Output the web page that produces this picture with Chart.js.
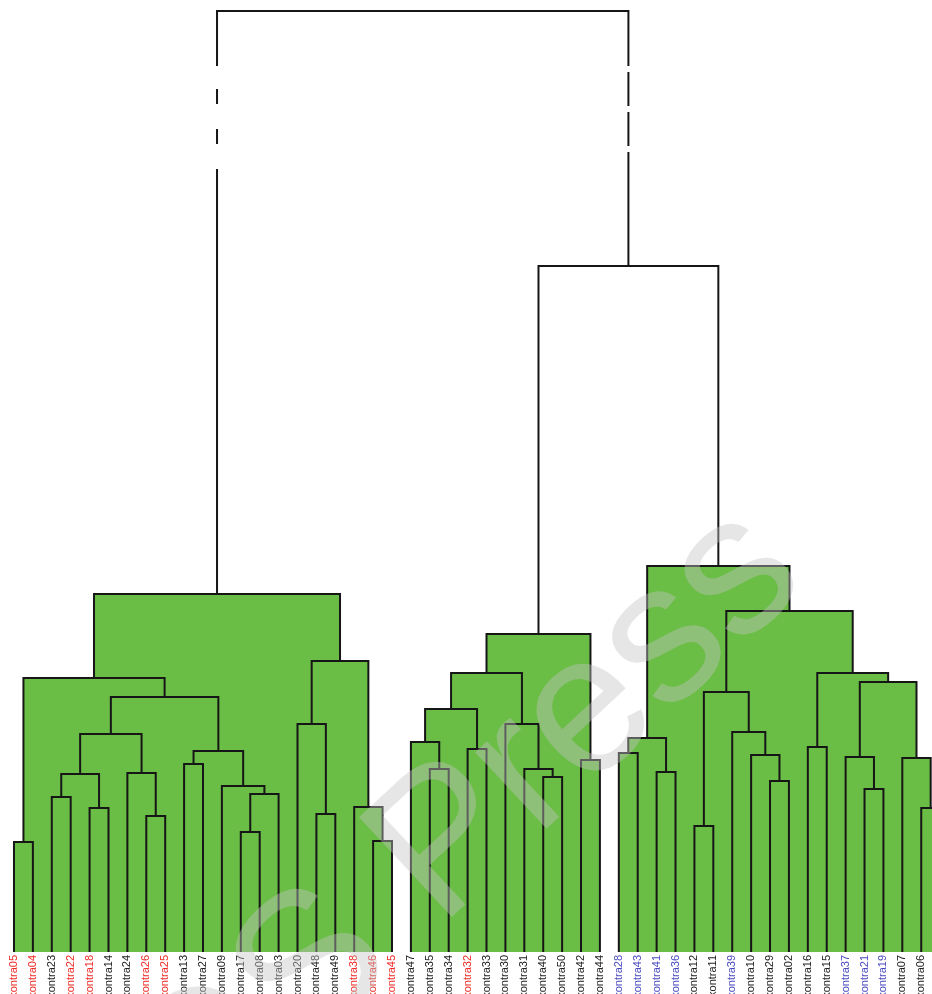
<!DOCTYPE html>
<html>
<head>
<meta charset="utf-8">
<script src="https://cdn.jsdelivr.net/npm/chart.js@4.4.1/dist/chart.umd.min.js"></script>
<style>
  body { margin: 0; background: #fff; }
  #wrap { width: 932px; height: 994px; }
</style>
</head>
<body>
<div id="wrap"><canvas id="chart"></canvas></div>
<script>
// leaf order along the bottom (kontra01 sits just past the right edge of the picture)
const leafNames = [
  'kontra05', 'kontra04', 'kontra23', 'kontra22', 'kontra18', 'kontra14', 'kontra24',
  'kontra26', 'kontra25', 'kontra13', 'kontra27', 'kontra09', 'kontra17', 'kontra08',
  'kontra03', 'kontra20', 'kontra48', 'kontra49', 'kontra38', 'kontra46', 'kontra45',
  'kontra47', 'kontra35', 'kontra34', 'kontra32', 'kontra33', 'kontra30', 'kontra31',
  'kontra40', 'kontra50', 'kontra42', 'kontra44',
  'kontra28', 'kontra43', 'kontra41', 'kontra36', 'kontra12', 'kontra11', 'kontra39',
  'kontra10', 'kontra29', 'kontra02', 'kontra16', 'kontra15', 'kontra37', 'kontra21',
  'kontra19', 'kontra07', 'kontra06', 'kontra01'
];
// label group of each leaf: r = red, b = blue, k = plain
const leafGroup = [
  'r', 'r', 'k', 'r', 'r', 'k', 'k', 'r', 'r', 'k', 'k', 'k', 'k', 'k', 'k', 'k', 'k', 'k', 'r', 'r', 'r',
  'k', 'k', 'k', 'r', 'k', 'k', 'k', 'k', 'k', 'k', 'k',
  'b', 'b', 'b', 'b', 'k', 'k', 'b', 'k', 'k', 'k', 'k', 'k', 'b', 'b', 'b', 'k', 'k', 'k'
];

// merges: [left child, right child, height]
// a child is either a leaf name or the index of an earlier merge
const merges = [
  ['kontra05', 'kontra04', 11.0],   // 0
  ['kontra23', 'kontra22', 15.5],   // 1
  ['kontra18', 'kontra14', 14.4],   // 2
  [1, 2, 17.8],                     // 3
  ['kontra26', 'kontra25', 13.6],   // 4
  ['kontra24', 4, 17.9],            // 5
  [3, 5, 21.8],                     // 6
  ['kontra13', 'kontra27', 18.8],   // 7
  ['kontra17', 'kontra08', 12.0],   // 8
  [8, 'kontra03', 15.8],            // 9
  ['kontra09', 9, 16.6],            // 10
  [7, 10, 20.1],                    // 11
  [6, 11, 25.5],                    // 12
  [0, 12, 27.4],                    // 13
  ['kontra48', 'kontra49', 13.8],   // 14
  ['kontra20', 14, 22.8],           // 15
  ['kontra46', 'kontra45', 11.1],   // 16
  ['kontra38', 16, 14.5],           // 17
  [15, 17, 29.1],                   // 18
  [13, 18, 35.8],                   // 19
  ['kontra35', 'kontra34', 18.3],   // 20
  ['kontra47', 20, 21.0],           // 21
  ['kontra32', 'kontra33', 20.3],   // 22
  [21, 22, 24.3],                   // 23
  ['kontra40', 'kontra50', 17.5],   // 24
  ['kontra31', 24, 18.3],           // 25
  ['kontra30', 25, 22.8],           // 26
  [23, 26, 27.9],                   // 27
  ['kontra42', 'kontra44', 19.2],   // 28
  [27, 28, 31.8],                   // 29
  ['kontra28', 'kontra43', 19.9],   // 30
  ['kontra41', 'kontra36', 18.0],   // 31
  [30, 31, 21.4],                   // 32
  ['kontra12', 'kontra11', 12.6],   // 33
  ['kontra29', 'kontra02', 17.1],   // 34
  ['kontra10', 34, 19.7],           // 35
  ['kontra39', 35, 22.0],           // 36
  [33, 36, 26.0],                   // 37
  ['kontra16', 'kontra15', 20.5],   // 38
  ['kontra21', 'kontra19', 16.3],   // 39
  ['kontra37', 39, 19.5],           // 40
  ['kontra06', 'kontra01', 14.4],   // 41
  ['kontra07', 41, 19.4],           // 42
  [40, 42, 27.0],                   // 43
  [38, 43, 27.9],                   // 44
  [37, 44, 34.1],                   // 45
  [32, 45, 38.6],                   // 46
  [29, 46, 68.6],                   // 47
  [19, 47, 94.1]                    // 48
];

const cutHeight = 50;     // merges below this belong to one of the green clusters
const breakFrom = 78.3;   // stretch of the root stems drawn broken
const breakTo = 88.6;

const groupColors = { r: '#ee2b25', b: '#4a4ac0', k: '#222222' };
const lineColor = '#161616';
const clusterFill = '#6abd45';

const nodeX = [];
const nodeH = [];

function childPos(c) {
  if (typeof c === 'string') return { x: leafNames.indexOf(c), h: 0 };
  return { x: nodeX[c], h: nodeH[c] };
}

// heights on one stem, from the child up to the merge, with the break points if it crosses them
function stem(x, from, to) {
  const pts = [{ x: x, y: from }];
  if (from < breakFrom && to > breakTo) {
    pts.push({ x: x, y: breakFrom }, { x: x, y: breakTo });
  }
  pts.push({ x: x, y: to });
  return pts;
}

function inBreak(ctx) {
  const a = ctx.p0.parsed.y, b = ctx.p1.parsed.y;
  return Math.min(a, b) >= breakFrom - 1e-6 && Math.max(a, b) <= breakTo + 1e-6 && a !== b;
}

const datasets = merges.map(([a, b, h], i) => {
  const l = childPos(a);
  const r = childPos(b);
  nodeX[i] = (l.x + r.x) / 2;
  nodeH[i] = h;
  const pts = stem(l.x, l.h, h).concat(stem(r.x, r.h, h).reverse());
  return {
    data: pts,
    borderColor: lineColor,
    borderWidth: 2,
    borderJoinStyle: 'miter',
    pointRadius: 0,
    pointHoverRadius: 0,
    tension: 0,
    fill: h < cutHeight ? 'origin' : false,
    backgroundColor: clusterFill,
    segment: {
      borderDash: ctx => inBreak(ctx) ? [15, 25] : undefined,
      borderDashOffset: ctx => inBreak(ctx) ? 15 : undefined
    }
  };
});

// faint publisher watermark across the picture
const watermark = {
  id: 'watermark',
  afterDraw(chart) {
    const ctx = chart.ctx;
    ctx.save();
    ctx.translate(440, 928);
    ctx.rotate(-43 * Math.PI / 180);
    ctx.font = '198px "Liberation Sans", Arial, sans-serif';
    ctx.fillStyle = 'rgba(195, 195, 195, 0.42)';
    ctx.textBaseline = 'alphabetic';
    const lead = ctx.measureText('IOS ').width;
    ctx.fillText('IOS Press', -lead, 0);
    ctx.restore();
  }
};

new Chart(document.getElementById('chart'), {
  type: 'line',
  data: { datasets: datasets },
  options: {
    responsive: true,
    maintainAspectRatio: false,
    animation: false,
    layout: { padding: 0 },
    plugins: {
      legend: { display: false },
      tooltip: { enabled: false },
      filler: { drawTime: 'beforeDatasetsDraw' }
    },
    scales: {
      x: {
        type: 'linear',
        min: -0.74,
        max: 48.57,
        grid: { display: false, drawTicks: false },
        border: { display: false },
        afterBuildTicks: s => {
          s.ticks = leafNames.map((n, i) => ({ value: i })).filter(t => t.value <= s.max);
        },
        afterFit: s => {
          s.height = 42;
          s.paddingLeft = 0;
          s.paddingRight = 0;
        },
        ticks: {
          autoSkip: false,
          minRotation: 90,
          maxRotation: 90,
          padding: 3,
          font: { family: '"Liberation Sans", Arial, sans-serif', size: 11 },
          color: ctx => groupColors[leafGroup[ctx.tick.value]],
          callback: v => leafNames[v]
        }
      },
      y: {
        display: false,
        min: 0,
        max: 95.2
      }
    }
  },
  plugins: [watermark]
});
</script>
</body>
</html>
